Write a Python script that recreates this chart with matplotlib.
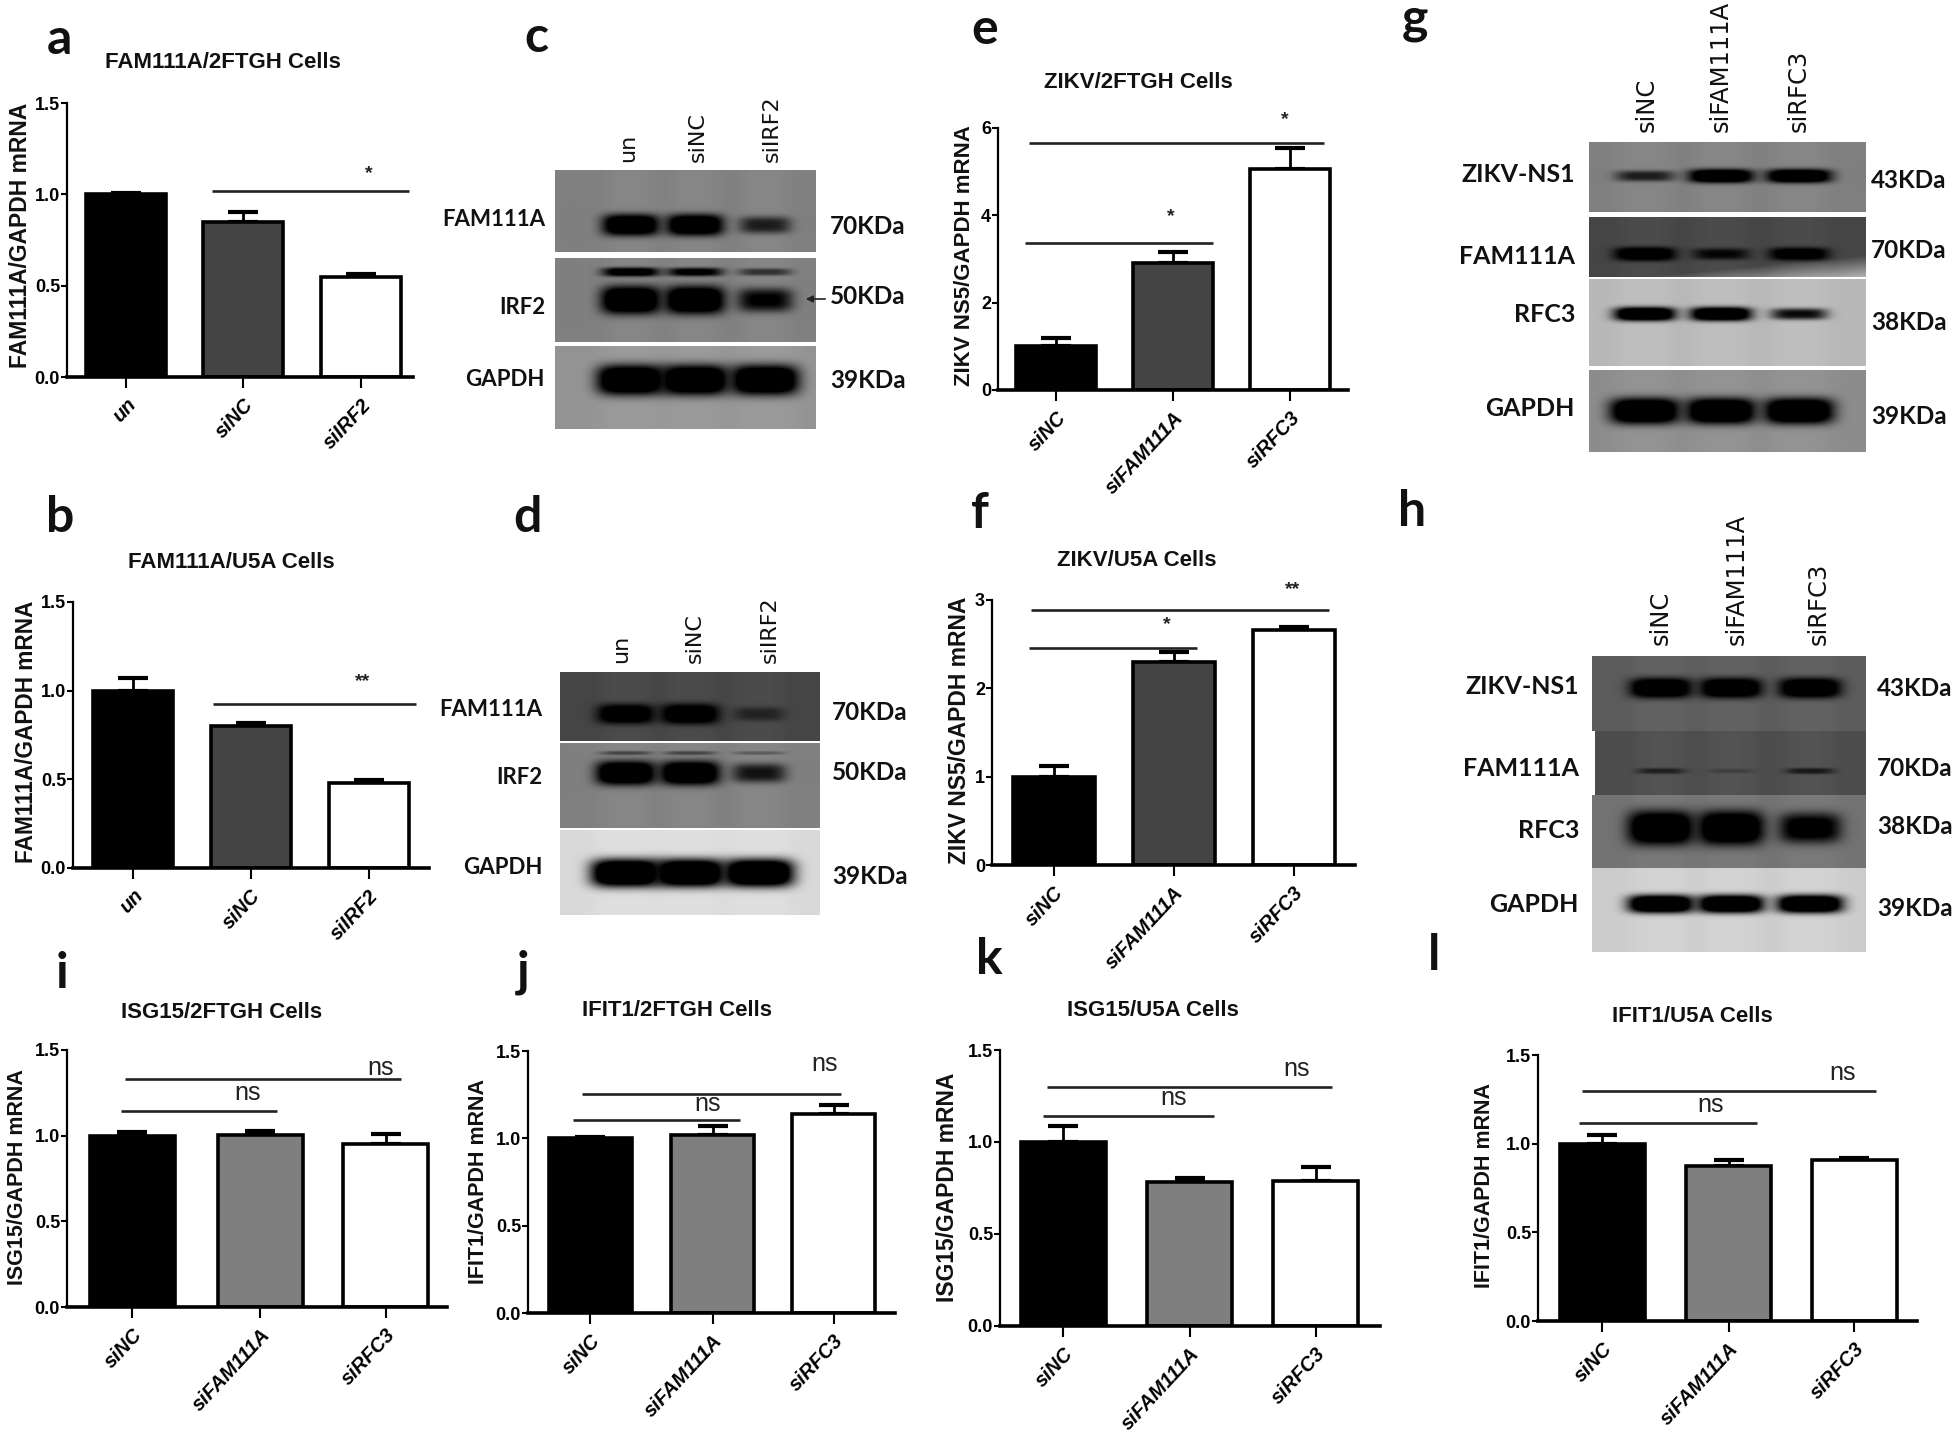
import numpy as np
import matplotlib
matplotlib.use('Agg')
import matplotlib.pyplot as plt

W, H = 1959, 1436

# bar values
irf2_cats = ['un', 'siNC', 'siIRF2']
rfc_cats = ['siNC', 'siFAM111A', 'siRFC3']

a_vals = [1.0, 0.85, 0.55]
a_errs = [0.01, 0.055, 0.015]
b_vals = [1.0, 0.80, 0.48]
b_errs = [0.07, 0.015, 0.015]
e_vals = [1.0, 2.9, 5.05]
e_errs = [0.2, 0.27, 0.5]
f_vals = [1.0, 2.3, 2.66]
f_errs = [0.12, 0.11, 0.03]
i_vals = [1.0, 1.005, 0.95]
i_errs = [0.02, 0.02, 0.06]
j_vals = [1.0, 1.02, 1.14]
j_errs = [0.01, 0.05, 0.05]
k_vals = [1.0, 0.78, 0.79]
k_errs = [0.085, 0.025, 0.075]
l_vals = [1.0, 0.875, 0.91]
l_errs = [0.05, 0.035, 0.01]

ticks_15 = [0.0, 0.5, 1.0, 1.5]
ticks_6 = [0, 2, 4, 6]
ticks_3 = [0, 1, 2, 3]

# blot band strengths, one per lane
c_fam = [0.95, 0.95, 0.5]
c_irf_up = [0.8, 0.7, 0.4]
c_irf = [1.0, 1.0, 0.65]
c_gapdh = [1.0, 1.0, 1.0]
d_fam = [0.95, 1.0, 0.35]
d_irf_up = [0.3, 0.3, 0.2]
d_irf = [1.0, 1.0, 0.55]
d_gapdh = [1.0, 1.0, 1.0]
g_ns1 = [0.5, 0.97, 0.97]
g_fam = [0.95, 0.6, 0.85]
g_rfc = [0.97, 0.97, 0.6]
g_gapdh = [1.0, 1.0, 1.0]
h_ns1 = [1.0, 1.0, 1.0]
h_fam = [0.4, 0.15, 0.45]
h_rfc = [1.0, 1.0, 0.75]
h_gapdh = [1.0, 1.0, 1.0]

plt.rcParams['font.family'] = ['Liberation Sans', 'DejaVu Sans']

fig = plt.figure(figsize=(W / 100, H / 100), dpi=100, facecolor='white')
ov = fig.add_axes([0, 0, 1, 1], zorder=5)
ov.set_xlim(0, W)
ov.set_ylim(H, 0)
ov.axis('off')
ov.patch.set_visible(False)


def bar_panel(ax_x, ax_r, y0, ytop, centers, bw, vals, errs, cats, yticks, fmt, midcolor):
    ax = fig.add_axes([ax_x / W, 1 - y0 / H, (ax_r - ax_x) / W, (y0 - ytop) / H])
    step = (centers[2] - centers[0]) / 2.0
    pos = [(c - centers[0]) / step for c in centers]
    ax.bar(pos, vals, bw / step, color=['black', midcolor, 'white'], edgecolor='black', linewidth=2.6, zorder=3)
    ax.errorbar(pos, vals, yerr=[[0, 0, 0], errs], fmt='none', ecolor='black', elinewidth=2,
                capsize=11, capthick=3, zorder=2)
    ax.set_xlim((ax_x - centers[0]) / step, (ax_r - centers[0]) / step)
    ax.set_ylim(yticks[0], yticks[-1])
    ax.set_yticks(yticks)
    ax.set_yticklabels([fmt % t for t in yticks], fontsize=13, fontweight='bold')
    ax.set_xticks(pos)
    ax.set_xticklabels(cats, fontsize=14.5, fontweight='bold', fontstyle='italic', rotation=47,
                       ha='right', rotation_mode='anchor')
    ax.tick_params(axis='y', length=4, width=1.5, pad=1)
    ax.tick_params(axis='x', length=8, width=1.5, pad=5)
    ax.spines['top'].set_visible(False)
    ax.spines['right'].set_visible(False)
    ax.spines['left'].set_linewidth(1.6)
    ax.spines['bottom'].set_linewidth(2.6)
    ax.spines['bottom'].set_zorder(4)
    ax.patch.set_visible(False)
    return ax


def deco(title, tx, ty, ylabel, lx, ly, lsize, letter, px, py, lines, marks):
    ov.text(tx, ty, title, fontsize=16, fontweight='bold', ha='center', va='center', color='#111111')
    ov.text(lx, ly, ylabel, fontsize=lsize, fontweight='bold', rotation=90, ha='center', va='center', color='#111111')
    panel_letter(letter, px, py)
    for x0, x1, y in lines:
        ov.plot([x0, x1], [y, y], color='#222222', lw=1.9, solid_capstyle='butt')
    for s, x, y in marks:
        if s == 'ns':
            ov.text(x, y, s, fontsize=18, ha='center', va='center', color='#222222')
        else:
            ov.text(x, y, s, fontsize=14, fontweight='bold', ha='center', va='center', color='#222222')


def panel_letter(letter, px, py):
    ov.text(px, py, letter, fontsize=36, fontweight='bold', family='Lato', ha='center', va='center', color='#111111')


def blot_row(x0, x1, y0, y1, bg, lanes, sets, hw, edge=None):
    xx, yy = np.meshgrid(np.arange(x0, x1) + 0.5, np.arange(y0, y1) + 0.5)
    img = np.full(xx.shape, bg, dtype=float)
    # faint lane smear, lanes run a bit lighter than the membrane
    for cx in lanes:
        img += 0.025 * np.exp(-((xx - cx) / (hw * 0.9)) ** 4)
    for by, bh, strength in sets:
        for cx, st in zip(lanes, strength):
            w = hw * (0.8 + 0.2 * st)
            h = bh * (0.55 + 0.45 * st)
            d = np.abs((xx - cx) / w) ** 4 + np.abs((yy - by) / h) ** 3
            img *= 1 - np.clip(st * 1.6 * np.exp(-d), 0, 1)
    if edge is not None:
        # lighter wedge in the corner of the g FAM111A strip
        img += edge * np.clip((xx - x0) / (x1 - x0) + (yy - y1) / (y1 - y0) * 2.2 - 0.2, 0, 1) * 1.2
    ov.imshow(img, cmap='gray', vmin=0, vmax=1, extent=(x0, x1, y1, y0), aspect='auto', interpolation='bilinear', zorder=1)


def blot_text(names, name_x, name_ys, name_size, kda, kda_x, kda_ys, cats, cat_xs, cat_y, cat_size):
    for n, y in zip(names, name_ys):
        ov.text(name_x, y, n, fontsize=name_size, fontweight='bold', family='Lato', ha='right', va='center', color='#111111')
    for n, y in zip(kda, kda_ys):
        ov.text(kda_x, y, n, fontsize=17.5, fontweight='bold', family='Lato', ha='left', va='center', color='#111111')
    for n, x in zip(cats, cat_xs):
        ov.text(x, cat_y, n, fontsize=cat_size, family='DejaVu Sans', rotation=90, ha='center', va='bottom', color='#111111')


# a
bar_panel(67, 413, 377, 103, [125.5, 243, 361], 80, a_vals, a_errs, irf2_cats, ticks_15, '%.1f', '#444444')
deco('FAM111A/2FTGH Cells', 223, 63, 'FAM111A/GAPDH mRNA', 21, 235, 16.5, 'a', 59, 40,
     [(212, 409, 191)], [('*', 369, 174)])
# b
bar_panel(73, 429, 868, 602, [132.5, 250.5, 368.5], 80, b_vals, b_errs, irf2_cats, ticks_15, '%.1f', '#444444')
deco('FAM111A/U5A Cells', 231, 563, 'FAM111A/GAPDH mRNA', 27, 732, 16.3, 'b', 60, 517,
     [(213, 416, 704)], [('**', 363, 682)])
# e
bar_panel(998, 1348, 390, 128, [1056, 1173, 1290], 80, e_vals, e_errs, rfc_cats, ticks_6, '%d', '#444444')
deco('ZIKV/2FTGH Cells', 1138, 82, 'ZIKV NS5/GAPDH mRNA', 964, 256, 16, 'e', 985, 30,
     [(1029, 1324, 143), (1025, 1213, 243)], [('*', 1285, 120), ('*', 1171, 217)])
# f
bar_panel(992, 1355, 865, 600, [1053.5, 1173.5, 1293.5], 82, f_vals, f_errs, rfc_cats, ticks_3, '%d', '#444444')
deco('ZIKV/U5A Cells', 1137, 561, 'ZIKV NS5/GAPDH mRNA', 959, 730, 16.5, 'f', 980, 513,
     [(1031, 1329, 610), (1029, 1197, 648)], [('**', 1293, 590), ('*', 1167, 625)])
# i
bar_panel(67, 447, 1307, 1050, [132, 260, 385.5], 85, i_vals, i_errs, rfc_cats, ticks_15, '%.1f', '#7f7f7f')
deco('ISG15/2FTGH Cells', 222, 1012, 'ISG15/GAPDH mRNA', 18, 1177, 15.5, 'i', 62, 974,
     [(125, 401, 1079), (121, 277, 1111)], [('ns', 381, 1068), ('ns', 248, 1093)])
# j
bar_panel(528, 895, 1313, 1051, [590, 712.5, 833.5], 83, j_vals, j_errs, rfc_cats, ticks_15, '%.1f', '#7f7f7f')
deco('IFIT1/2FTGH Cells', 677, 1011, 'IFIT1/GAPDH mRNA', 479, 1181, 15.5, 'j', 523, 972,
     [(582, 841, 1094), (573, 740, 1120)], [('ns', 825, 1064), ('ns', 708, 1104)])
# k
bar_panel(1000, 1380, 1326, 1050, [1063, 1189.5, 1315.5], 85, k_vals, k_errs, rfc_cats, ticks_15, '%.1f', '#7f7f7f')
deco('ISG15/U5A Cells', 1153, 1010, 'ISG15/GAPDH mRNA', 947, 1187, 16.5, 'k', 989, 960,
     [(1047, 1332, 1087), (1043, 1214, 1116)], [('ns', 1297, 1069), ('ns', 1174, 1098)])
# l
bar_panel(1538, 1917, 1321, 1055, [1602, 1728.5, 1854], 85, l_vals, l_errs, rfc_cats, ticks_15, '%.1f', '#7f7f7f')
deco('IFIT1/U5A Cells', 1692, 1017, 'IFIT1/GAPDH mRNA', 1485, 1186, 15.5, 'l', 1434, 955,
     [(1582, 1876, 1091), (1579, 1757, 1123)], [('ns', 1843, 1073), ('ns', 1711, 1105)])

# c
panel_letter('c', 536, 38)
lanes = [631, 695, 765]
blot_row(555, 816, 170, 252, 0.50, lanes, [(225, 11, c_fam)], 29)
blot_row(555, 816, 258, 342, 0.50, lanes, [(272, 5, c_irf_up), (300, 14, c_irf)], 30)
blot_row(555, 816, 346, 429, 0.58, lanes, [(380, 15, c_gapdh)], 34)
blot_text(['FAM111A', 'IRF2', 'GAPDH'], 545, [220, 307, 380], 16, ['70KDa', '50KDa', '39KDa'], 830, [227, 296, 380],
          irf2_cats, [628, 698, 772], 162, 16)
ov.annotate('', xy=(803, 299), xytext=(828, 299), arrowprops=dict(arrowstyle='-|>', color='#222222', lw=1.2))

# d
panel_letter('d', 527, 518)
lanes = [626, 690, 759]
blot_row(560, 820, 672, 741, 0.27, lanes, [(714, 10, d_fam)], 29)
blot_row(560, 820, 743, 828, 0.50, lanes, [(753, 3, d_irf_up), (773, 12, d_irf)], 30)
blot_row(560, 820, 830, 915, 0.85, lanes, [(873, 14, d_gapdh)], 35)
blot_text(['FAM111A', 'IRF2', 'GAPDH'], 542, [710, 777, 868], 16, ['70KDa', '50KDa', '39KDa'], 832, [713, 773, 877],
          irf2_cats, [621, 695, 770], 663, 16)

# g
panel_letter('g', 1415, 20)
lanes = [1645, 1721, 1799]
blot_row(1589, 1866, 142, 212, 0.50, lanes, [(176, 7, g_ns1)], 33)
blot_row(1589, 1866, 217, 277, 0.27, lanes, [(254, 7, g_fam)], 31, edge=0.45)
blot_row(1589, 1866, 279, 366, 0.72, lanes, [(314, 7, g_rfc)], 31)
blot_row(1589, 1866, 370, 452, 0.55, lanes, [(411, 13, g_gapdh)], 35)
blot_text(['ZIKV-NS1', 'FAM111A', 'RFC3', 'GAPDH'], 1575, [174, 257, 314, 409], 18,
          ['43KDa', '70KDa', '38KDa', '39KDa'], 1871, [180, 251, 322, 417], rfc_cats, [1647, 1721, 1799], 132, 17.5)

# h
panel_letter('h', 1412, 512)
lanes = [1661, 1731, 1810]
blot_row(1592, 1866, 656, 731, 0.36, lanes, [(688, 10, h_ns1)], 31)
blot_row(1595, 1866, 731, 795, 0.30, lanes, [(771, 4, h_fam)], 27)
blot_row(1592, 1866, 795, 868, 0.45, lanes, [(828, 17, h_rfc)], 33)
blot_row(1592, 1866, 868, 952, 0.80, lanes, [(904, 9, h_gapdh)], 33)
blot_text(['ZIKV-NS1', 'FAM111A', 'RFC3', 'GAPDH'], 1579, [686, 769, 830, 904], 18,
          ['43KDa', '70KDa', '38KDa', '39KDa'], 1877, [688, 769, 827, 909], rfc_cats, [1661, 1737, 1819], 645, 17.5)

ov.set_xlim(0, W)
ov.set_ylim(H, 0)
fig.savefig('out.png', dpi=100)
